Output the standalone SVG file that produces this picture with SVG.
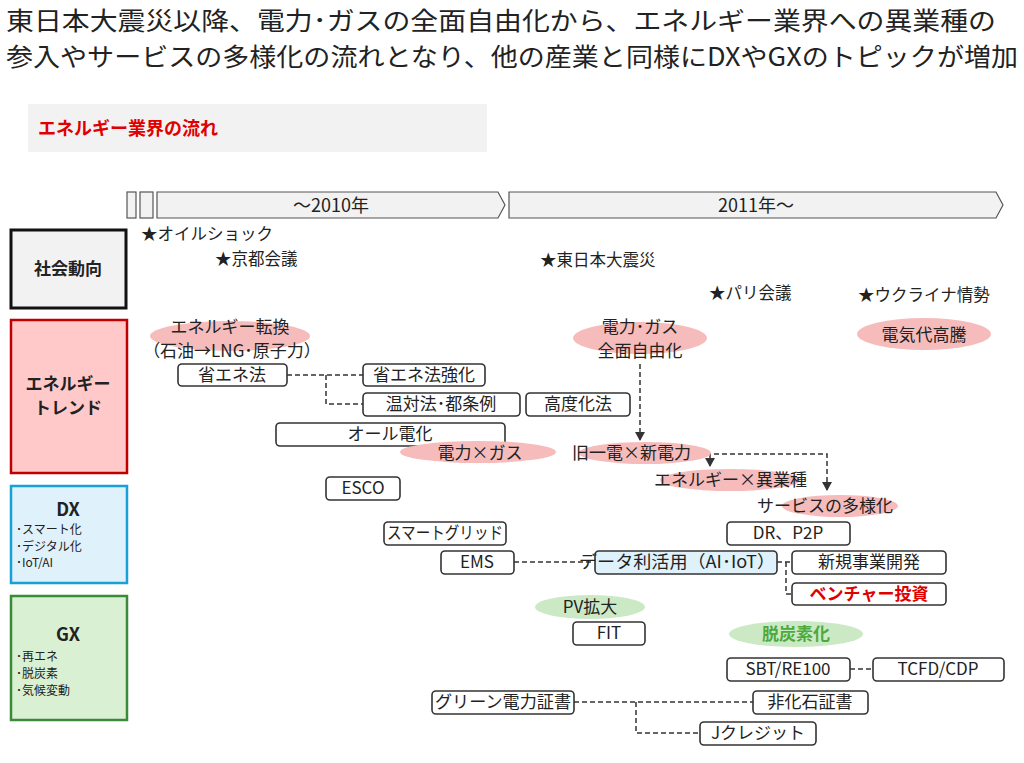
<svg xmlns="http://www.w3.org/2000/svg" width="1024" height="763" viewBox="0 0 1024 763">
<defs>
<marker id="ad" markerWidth="10" markerHeight="10" refX="5" refY="9" markerUnits="userSpaceOnUse" viewBox="0 0 10 10"><path d="M0,1 L10,1 L5,10 z" fill="#333"/></marker>
</defs>
<style>
text{font-family:"Noto Sans CJK JP","Liberation Sans",sans-serif;fill:#222}
.t{font-size:25px}
.ev{font-size:16.5px}
.n{font-size:17px}
.c{text-anchor:middle}
.b{fill:#fff;stroke:#333;stroke-width:1.6}
.pk{fill:#f6bcbc}
.gr{fill:#cce9c6}
.d{fill:none;stroke:#333;stroke-width:1.5;stroke-dasharray:5 3}
.tl{fill:#f2f2f2;stroke:#555;stroke-width:1.2}
.lb{font-weight:bold;font-size:17px}
.sm{font-size:12px}
</style>
<rect width="1024" height="763" fill="#fff"/>
<text class="t" x="6" y="30" textLength="990" lengthAdjust="spacingAndGlyphs">東日本大震災以降、電力･ガスの全面自由化から、エネルギー業界への異業種の</text>
<text class="t" x="6" y="66" textLength="1012" lengthAdjust="spacingAndGlyphs">参入やサービスの多様化の流れとなり、他の産業と同様にDXやGXのトピックが増加</text>
<rect x="28" y="104" width="459" height="48" fill="#f2f2f2"/>
<text x="38" y="135" style="fill:#e00000;font-weight:bold;font-size:18px">エネルギー業界の流れ</text>

<g id="timeline">
<rect class="tl" x="127" y="192" width="9" height="26"/>
<rect class="tl" x="140" y="192" width="13" height="26"/>
<path class="tl" d="M157,192 H498 L505,205 L498,218 H157 z"/>
<path class="tl" d="M509,192 H996 L1003,205 L996,218 H509 z"/>
<text class="c" x="331" y="212" style="font-size:18px">～2010年</text>
<text class="c" x="756" y="212" style="font-size:18px">2011年～</text>
</g>

<g id="rows">
<rect x="11" y="230" width="115" height="78" fill="#f2f2f2" stroke="#111" stroke-width="3"/>
<text class="c lb" x="68" y="275">社会動向</text>
<rect x="11" y="320" width="116" height="153" fill="#ffc9c9" stroke="#c00000" stroke-width="2.5"/>
<text class="c lb" x="68" y="390">エネルギー</text>
<text class="c lb" x="68" y="414">トレンド</text>
<rect x="11" y="486" width="116" height="97" fill="#dff1fa" stroke="#1aa0d8" stroke-width="2.5"/>
<text class="c lb" x="68" y="516" style="font-size:18px">DX</text>
<text class="sm" x="16" y="534">･スマート化</text>
<text class="sm" x="16" y="551">･デジタル化</text>
<text class="sm" x="16" y="567">･IoT/AI</text>
<rect x="11" y="596" width="116" height="124" fill="#d9f0d3" stroke="#3a8a3a" stroke-width="2.5"/>
<text class="c lb" x="68" y="641" style="font-size:18px">GX</text>
<text class="sm" x="16" y="661">･再エネ</text>
<text class="sm" x="16" y="678">･脱炭素</text>
<text class="sm" x="16" y="695">･気候変動</text>
</g>

<g id="events">
<text class="ev" x="141" y="240">★オイルショック</text>
<text class="ev" x="215" y="265">★京都会議</text>
<text class="ev" x="540" y="266">★東日本大震災</text>
<text class="ev" x="709" y="299">★パリ会議</text>
<text class="ev" x="858" y="301">★ウクライナ情勢</text>
</g>

<g id="connectors">
<path class="d" d="M287,375 H363 M326,375 V404 H363"/>
<path class="d" d="M640,364 V440" marker-end="url(#ad)"/>
<path class="d" d="M706,454 H827 V490" marker-end="url(#ad)"/>
<path class="d" d="M710,454 V466" marker-end="url(#ad)"/>
<path class="d" d="M514,562 H592"/>
<path class="d" d="M777,562 H792 M786,562 V594 H792"/>
<path class="d" d="M850,669 H873"/>
<path class="d" d="M574,702 H753 M636,702 V733 H700"/>
</g>

<g id="n-tenkan"><ellipse class="pk" cx="230" cy="336" rx="80" ry="15"/><text class="n c" x="230" y="333">エネルギー転換</text><text class="n c" x="232" y="357">（石油→LNG･原子力）</text></g>
<g id="n-jiyuka"><ellipse class="pk" cx="640" cy="338" rx="67" ry="16"/><text class="n c" x="640" y="333">電力･ガス</text><text class="n c" x="640" y="357">全面自由化</text></g>
<g id="n-kouto"><ellipse class="pk" cx="924" cy="334" rx="67" ry="16"/><text class="n c" x="924" y="341">電気代高騰</text></g>
<g id="n-shoene"><rect class="b" x="178" y="364" width="109" height="22" rx="4"/><text class="n c" x="232" y="381">省エネ法</text></g>
<g id="n-shoene2"><rect class="b" x="363" y="364" width="122" height="22" rx="4"/><text class="n c" x="424" y="381">省エネ法強化</text></g>
<g id="n-ontai"><rect class="b" x="363" y="393" width="157" height="23" rx="4"/><text class="n c" x="441" y="410">温対法･都条例</text></g>
<g id="n-kodoka"><rect class="b" x="526" y="393" width="104" height="23" rx="4"/><text class="n c" x="578" y="410">高度化法</text></g>
<g id="n-alldenka"><rect class="b" x="276" y="423" width="229" height="23" rx="4"/><text class="n c" x="390" y="440">オール電化</text></g>
<g id="n-denryokugas"><ellipse class="pk" cx="478" cy="452" rx="78" ry="11"/><text class="n c" x="480" y="459">電力×ガス</text></g>
<g id="n-kyuichi"><ellipse class="pk" cx="645" cy="453" rx="66" ry="11"/><text class="n" x="572" y="459">旧一電×新電力</text></g>
<g id="n-igyoshu"><ellipse class="pk" cx="730" cy="480" rx="70" ry="11"/><text class="n" x="654" y="486">エネルギー×異業種</text></g>
<g id="n-tayoka"><ellipse class="pk" cx="840" cy="506" rx="58" ry="11"/><text class="n" x="757" y="512">サービスの多様化</text></g>
<g id="n-esco"><rect class="b" x="326" y="477" width="74" height="23" rx="4"/><text class="n c" x="363" y="494">ESCO</text></g>
<g id="n-smartgrid"><rect class="b" x="384" y="522" width="122" height="23" rx="4"/><text class="n c" x="445" y="539" textLength="116" lengthAdjust="spacingAndGlyphs">スマートグリッド</text></g>
<g id="n-drp2p"><rect class="b" x="727" y="522" width="123" height="23" rx="4"/><text class="n c" x="788" y="539">DR、P2P</text></g>
<g id="n-ems"><rect class="b" x="441" y="551" width="73" height="23" rx="4"/><text class="n c" x="477" y="568">EMS</text></g>
<g id="n-data"><rect x="595" y="551" width="182" height="23" rx="4" fill="#dff1fa" stroke="#333" stroke-width="1.6"/><text class="n" x="579" y="568" textLength="196" lengthAdjust="spacingAndGlyphs">データ利活用（AI･IoT）</text></g>
<g id="n-shinki"><rect class="b" x="792" y="551" width="154" height="23" rx="4"/><text class="n c" x="869" y="568">新規事業開発</text></g>
<g id="n-venture"><rect class="b" x="792" y="583" width="154" height="22" rx="4"/><text class="n c" x="869" y="600" style="fill:#e00000;font-weight:bold">ベンチャー投資</text></g>
<g id="n-pv"><ellipse class="gr" cx="590" cy="607" rx="55" ry="12"/><text class="n c" x="590" y="613">PV拡大</text></g>
<g id="n-fit"><rect class="b" x="573" y="622" width="72" height="23" rx="4"/><text class="n c" x="609" y="639">FIT</text></g>
<g id="n-datsutanso"><ellipse class="gr" cx="796" cy="634" rx="67" ry="13"/><text class="n c" x="796" y="640" style="fill:#4caa3c;font-weight:bold">脱炭素化</text></g>
<g id="n-sbt"><rect class="b" x="727" y="658" width="123" height="23" rx="4"/><text class="n c" x="788" y="675">SBT/RE100</text></g>
<g id="n-tcfd"><rect class="b" x="873" y="658" width="131" height="23" rx="4"/><text class="n c" x="938" y="675">TCFD/CDP</text></g>
<g id="n-green"><rect class="b" x="432" y="691" width="142" height="23" rx="4"/><text class="n c" x="503" y="708" textLength="136" lengthAdjust="spacingAndGlyphs">グリーン電力証書</text></g>
<g id="n-hikaseki"><rect class="b" x="753" y="691" width="115" height="23" rx="4"/><text class="n c" x="810" y="708">非化石証書</text></g>
<g id="n-jcredit"><rect class="b" x="700" y="722" width="116" height="23" rx="4"/><text class="n c" x="758" y="739">Jクレジット</text></g>
</svg>
